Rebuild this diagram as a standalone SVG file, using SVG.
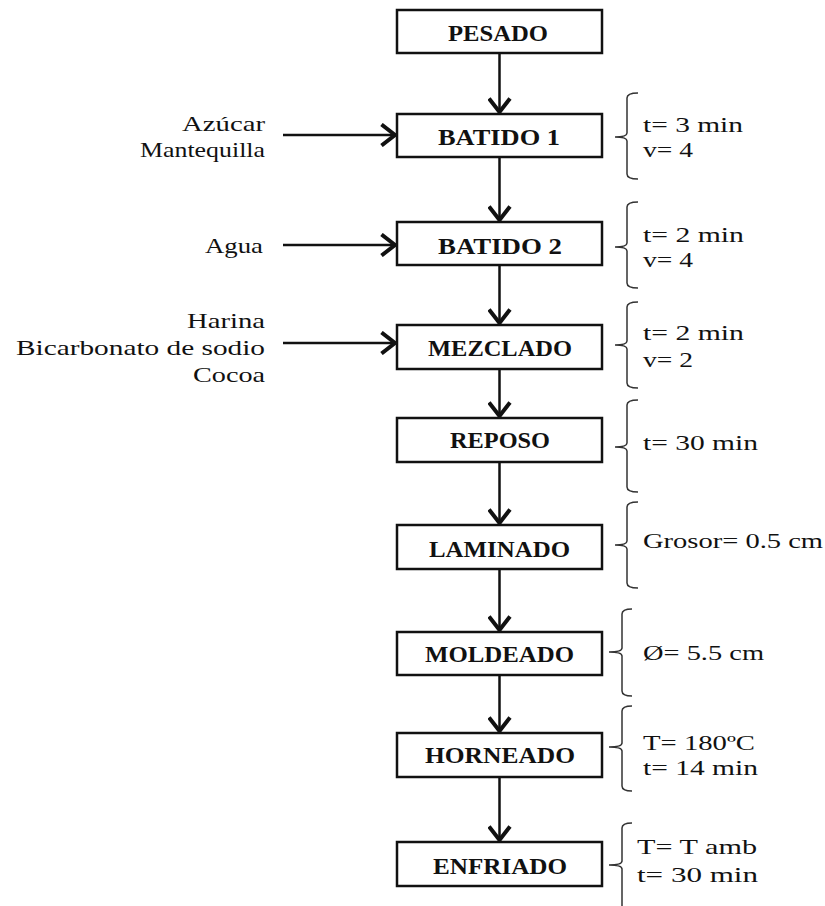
<svg xmlns="http://www.w3.org/2000/svg" width="825" height="906" viewBox="0 0 825 906">
<style>
.box{fill:#fff;stroke:#111;stroke-width:2.5}
.lbl{font-family:"Liberation Serif",serif;font-weight:bold;font-size:23px;fill:#111;text-anchor:middle}
.txt{font-family:"Liberation Serif",serif;font-size:21px;fill:#111}
.in{text-anchor:end}
.conn{stroke:#111;stroke-width:2.5;fill:none}
.brace{stroke:#333;stroke-width:1.5;fill:none}
</style>
<defs>
<marker id="chev" viewBox="0 0 20 24" refX="17" refY="12" markerWidth="20" markerHeight="24" markerUnits="userSpaceOnUse" orient="auto">
<path d="M1.5,1.5 L15,12 L1.5,22.5" fill="none" stroke="#111" stroke-width="4"/>
</marker>
</defs>
<rect width="825" height="906" fill="#fff"/>
<g id="connectors">
<line class="conn" x1="499.5" y1="53" x2="499.5" y2="114" marker-end="url(#chev)"/>
<line class="conn" x1="499.5" y1="157" x2="499.5" y2="222" marker-end="url(#chev)"/>
<line class="conn" x1="499.5" y1="265" x2="499.5" y2="325" marker-end="url(#chev)"/>
<line class="conn" x1="499.5" y1="369" x2="499.5" y2="418" marker-end="url(#chev)"/>
<line class="conn" x1="499.5" y1="462" x2="499.5" y2="525" marker-end="url(#chev)"/>
<line class="conn" x1="499.5" y1="569" x2="499.5" y2="632" marker-end="url(#chev)"/>
<line class="conn" x1="499.5" y1="675" x2="499.5" y2="733" marker-end="url(#chev)"/>
<line class="conn" x1="499.5" y1="777" x2="499.5" y2="842" marker-end="url(#chev)"/>
<line class="conn" x1="283" y1="135" x2="397" y2="135" marker-end="url(#chev)"/>
<line class="conn" x1="283" y1="245" x2="397" y2="245" marker-end="url(#chev)"/>
<line class="conn" x1="283" y1="343" x2="397" y2="343" marker-end="url(#chev)"/>
</g>
<g id="pesado"><rect class="box" x="397" y="10" width="205" height="43"/><text class="lbl" x="498" y="41" textLength="100" lengthAdjust="spacingAndGlyphs">PESADO</text></g>
<g id="batido1"><rect class="box" x="397" y="114" width="205" height="43"/><text class="lbl" x="499" y="145" textLength="122" lengthAdjust="spacingAndGlyphs">BATIDO 1</text></g>
<g id="batido2"><rect class="box" x="397" y="222" width="205" height="43"/><text class="lbl" x="500" y="254" textLength="124" lengthAdjust="spacingAndGlyphs">BATIDO 2</text></g>
<g id="mezclado"><rect class="box" x="397" y="325" width="205" height="44"/><text class="lbl" x="500" y="356" textLength="144" lengthAdjust="spacingAndGlyphs">MEZCLADO</text></g>
<g id="reposo"><rect class="box" x="397" y="418" width="205" height="44"/><text class="lbl" x="500" y="448" textLength="100" lengthAdjust="spacingAndGlyphs">REPOSO</text></g>
<g id="laminado"><rect class="box" x="397" y="525" width="205" height="44"/><text class="lbl" x="499.5" y="557" textLength="141" lengthAdjust="spacingAndGlyphs">LAMINADO</text></g>
<g id="moldeado"><rect class="box" x="397" y="632" width="205" height="43"/><text class="lbl" x="499.5" y="662" textLength="149" lengthAdjust="spacingAndGlyphs">MOLDEADO</text></g>
<g id="horneado"><rect class="box" x="397" y="733" width="205" height="44"/><text class="lbl" x="500" y="763" textLength="150" lengthAdjust="spacingAndGlyphs">HORNEADO</text></g>
<g id="enfriado"><rect class="box" x="397" y="842" width="205" height="44"/><text class="lbl" x="500" y="874" textLength="134" lengthAdjust="spacingAndGlyphs">ENFRIADO</text></g>
<g id="inputs">
<text class="txt in" x="265" y="131" textLength="83" lengthAdjust="spacingAndGlyphs">Azúcar</text>
<text class="txt in" x="265" y="157" textLength="125" lengthAdjust="spacingAndGlyphs">Mantequilla</text>
<text class="txt in" x="263" y="253" textLength="58" lengthAdjust="spacingAndGlyphs">Agua</text>
<text class="txt in" x="265" y="328" textLength="78" lengthAdjust="spacingAndGlyphs">Harina</text>
<text class="txt in" x="265" y="355" textLength="249" lengthAdjust="spacingAndGlyphs">Bicarbonato de sodio</text>
<text class="txt in" x="265" y="382" textLength="72" lengthAdjust="spacingAndGlyphs">Cocoa</text>
</g>
<g id="params">
<path class="brace" d="M638,93 Q627,93 627,98 L627,133 Q627,137 615,137 Q627,137 627,141 L627,174 Q627,179 638,179"/>
<text class="txt" x="643" y="132" textLength="100" lengthAdjust="spacingAndGlyphs">t= 3 min</text>
<text class="txt" x="643" y="157" textLength="50" lengthAdjust="spacingAndGlyphs">v= 4</text>
<path class="brace" d="M638,202 Q627,202 627,207 L627,243 Q627,247 615,247 Q627,247 627,251 L627,283 Q627,288 638,288"/>
<text class="txt" x="643" y="242" textLength="101" lengthAdjust="spacingAndGlyphs">t= 2 min</text>
<text class="txt" x="643" y="267" textLength="50" lengthAdjust="spacingAndGlyphs">v= 4</text>
<path class="brace" d="M638,302 Q627,302 627,307 L627,341 Q627,345 615,345 Q627,345 627,349 L627,383 Q627,388 638,388"/>
<text class="txt" x="643" y="340" textLength="101" lengthAdjust="spacingAndGlyphs">t= 2 min</text>
<text class="txt" x="643" y="367" textLength="50" lengthAdjust="spacingAndGlyphs">v= 2</text>
<path class="brace" d="M638,400 Q627,400 627,405 L627,443 Q627,447 615,447 Q627,447 627,451 L627,487 Q627,492 638,492"/>
<text class="txt" x="643" y="450" textLength="115" lengthAdjust="spacingAndGlyphs">t= 30 min</text>
<path class="brace" d="M638,502 Q627,502 627,507 L627,541 Q627,545 615,545 Q627,545 627,549 L627,583 Q627,588 638,588"/>
<text class="txt" x="643" y="548" textLength="180" lengthAdjust="spacingAndGlyphs">Grosor= 0.5 cm</text>
<path class="brace" d="M632,609 Q622,609 622,614 L622,648 Q622,652 609,652 Q622,652 622,656 L622,691 Q622,696 632,696"/>
<text class="txt" x="643" y="660" textLength="121" lengthAdjust="spacingAndGlyphs">Ø= 5.5 cm</text>
<path class="brace" d="M632,706 Q622,706 622,711 L622,743 Q622,747 609,747 Q622,747 622,751 L622,786 Q622,791 632,791"/>
<text class="txt" x="643" y="750" textLength="112" lengthAdjust="spacingAndGlyphs">T= 180ºC</text>
<text class="txt" x="643" y="775" textLength="115" lengthAdjust="spacingAndGlyphs">t= 14 min</text>
<path class="brace" d="M632,823 Q622,823 622,828 L622,861 Q622,865 609,865 Q622,865 622,869 L622,906"/>
<text class="txt" x="637" y="854" textLength="120" lengthAdjust="spacingAndGlyphs">T= T amb</text>
<text class="txt" x="637" y="882" textLength="121" lengthAdjust="spacingAndGlyphs">t= 30 min</text>
</g>
</svg>
